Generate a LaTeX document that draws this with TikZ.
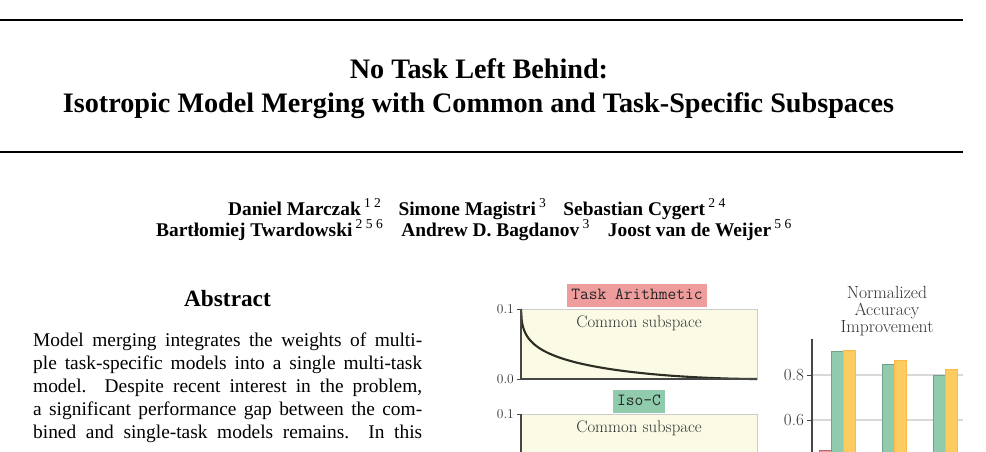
\documentclass[tikz,border=0pt]{standalone}
\usepackage{fontspec}
\newfontfamily\timesfont{Liberation Serif}
\definecolor{tared}{RGB}{238,156,156}
\definecolor{isogreen}{RGB}{143,203,172}
\definecolor{ctsyellow}{RGB}{252,204,96}
\definecolor{panelbg}{RGB}{251,250,229}
\definecolor{axisgray}{RGB}{70,70,70}
\begin{document}
\begin{tikzpicture}[x=1pt,y=-1pt,line cap=butt,line join=miter]
	\tikzset{declare function={bw=12;gx(\g)=819+51*\g;vy(\v)=375-(\v-0.8)*225;},
		titletext/.style={font=\timesfont\bfseries\fontsize{28.2}{35}\selectfont,inner sep=0},
		authtext/.style={font=\timesfont\bfseries\fontsize{19.4}{21}\selectfont,inner sep=0},
		headtext/.style={font=\timesfont\bfseries\fontsize{23.3}{28}\selectfont,inner sep=0},
		bodytext/.style={font=\timesfont\fontsize{19.4}{23}\selectfont,inner sep=0,align=left},
		methodtag/.style={font=\ttfamily\fontsize{17}{17}\selectfont,text=black!85,inner xsep=4pt,inner ysep=3pt,text height=12pt,text depth=5pt},
		panel/.style={fill=panelbg,draw=black!20,line width=0.6pt},
		axisline/.style={draw=axisgray,line width=1.3pt},
		smalltick/.style={font=\fontsize{13.5}{13.5}\selectfont,text=black!80,inner sep=0},
		bigtick/.style={font=\fontsize{17}{17}\selectfont,text=black!80,inner sep=0},
		bar/.style={line width=0.6pt}}
	\useasboundingbox (0,0) rectangle (986,452);
	\clip (0,0) rectangle (986,452);
	% title block
	\draw[line width=2.2pt] (0,20)--(963,20);
	\draw[line width=2.2pt] (0,152)--(963,152);
	\node[titletext,anchor=base] (title1) at (479,78) {No Task Left Behind:};
	\node[titletext,anchor=base] (title2) at (478.5,113) {Isotropic Model Merging with Common and Task-Specific Subspaces};
	\node[authtext,anchor=base] (auth1) at (477,215.5) {Daniel Marczak\,{\mdseries\textsuperscript{1 2}}\hspace{17pt}Simone Magistri\,{\mdseries\textsuperscript{3}}\hspace{17pt}Sebastian Cygert\,{\mdseries\textsuperscript{2 4}}};
	\node[authtext,anchor=base] (auth2) at (474,236.5) {Bartłomiej Twardowski\,{\mdseries\textsuperscript{2 5 6}}\hspace{18pt}Andrew D. Bagdanov\,{\mdseries\textsuperscript{3}}\hspace{18pt}Joost van de Weijer\,{\mdseries\textsuperscript{5 6}}};
	% abstract
	\node[headtext,anchor=base] (abshead) at (227.5,306) {Abstract};
	\node[bodytext,anchor=north west] (abstext) at (33,332.5) {%
		\makebox[389pt][s]{Model merging integrates the weights of multi-}\\
		\makebox[389pt][s]{ple task-specific models into a single multi-task}\\
		\makebox[389pt][s]{model.\ \ Despite recent interest in the problem,}\\
		\makebox[389pt][s]{a significant performance gap between the com-}\\
		\makebox[389pt][s]{bined and single-task models remains.\ \ In this}};
	% spectrum panels
	\def\f(#1){(1-(#1))^1.7/(1+3.5*sqrt(#1))} % spectrum
	\fill[panel] (521,309) rectangle (757,379);
	\fill[panel] (521,414) rectangle (757,470);
	\node[methodtag,fill=tared,anchor=base] (taTag) at (637,299) {Task Arithmetic};
	\node[methodtag,fill=isogreen,anchor=base] (isoTag) at (639,405) {Iso-C};
	\node[font=\fontsize{16.8}{16.8}\selectfont,text=black!80] (csTop) at (639,323.5) {Common subspace};
	\node[font=\fontsize{16.8}{16.8}\selectfont,text=black!80] (csBot) at (639,428.5) {Common subspace};
	\draw[line width=2.1pt,draw={rgb,255:red,45;green,45;blue,35}] plot[domain=0:0.995,samples=300] ({521+236*\x},{379-70*\f(\x)}) -- (757,379);
	\draw[axisline] (521,309)--(521,379)--(757,379);
	\draw[axisline] (521,414)--(521,470);
	\foreach \yy/\t in {309/0.1,379/0.0,414/0.1}{
		\draw[axisline,line width=1pt] (517,\yy)--(521,\yy);
		\node[smalltick,anchor=east] (tk\yy) at (514,\yy) {\t};}
	% bar chart
	\node[font=\fontsize{17.6}{17}\selectfont,text=black!80,align=center] (nai) at (887,311) {Normalized\\Accuracy\\Improvement};
	\foreach \yy/\t in {375/0.8,420/0.6}{
		\draw[black!15,line width=1.2pt] (812,\yy)--(963,\yy);
		\draw[axisline,line width=1pt] (807,\yy)--(812,\yy);
		\node[bigtick,anchor=east] (yt\yy) at (804,\yy) {\t};}
	\foreach \g/\r/\gr/\ye in {0/0.467/0.907/0.911,1/0.3/0.849/0.867,2/0.3/0.80/0.827}{
		\filldraw[bar,fill=tared,draw=tared!70!black] ({gx(\g)},{vy(\r)}) rectangle ({gx(\g)+bw},470);
		\filldraw[bar,fill=isogreen,draw=isogreen!80!black] ({gx(\g)+bw},{vy(\gr)}) rectangle ({gx(\g)+2*bw},470);
		\filldraw[bar,fill=ctsyellow,draw=ctsyellow!75!orange] ({gx(\g)+2*bw},{vy(\ye)}) rectangle ({gx(\g)+3*bw},470);}
	\draw[axisline] (812,339)--(812,470);
\end{tikzpicture}
\end{document}
